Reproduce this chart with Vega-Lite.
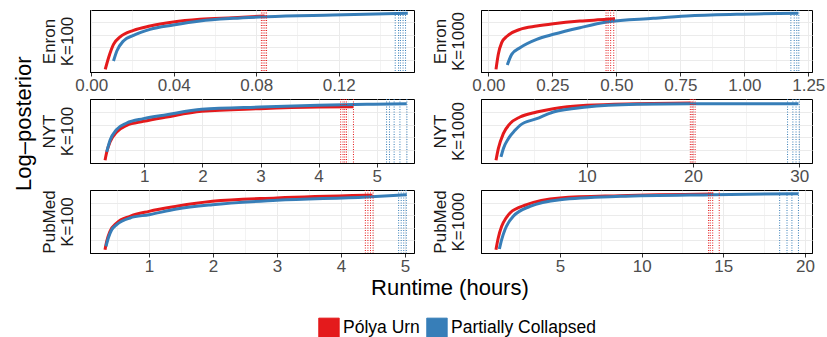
{
  "$schema": "https://vega.github.io/schema/vega-lite/v6.json",
  "padding": {"left": 12, "top": 9, "right": 0, "bottom": 0},
  "background": "white",
  "datasets": {
    "curves": [
      {"p": "Enron|100", "alg": "Pólya Urn", "t": 0.0068, "lp": 0.043},
      {"p": "Enron|100", "alg": "Pólya Urn", "t": 0.0084, "lp": 0.231},
      {"p": "Enron|100", "alg": "Pólya Urn", "t": 0.0108, "lp": 0.446},
      {"p": "Enron|100", "alg": "Pólya Urn", "t": 0.014, "lp": 0.565},
      {"p": "Enron|100", "alg": "Pólya Urn", "t": 0.0205, "lp": 0.672},
      {"p": "Enron|100", "alg": "Pólya Urn", "t": 0.0285, "lp": 0.742},
      {"p": "Enron|100", "alg": "Pólya Urn", "t": 0.0398, "lp": 0.806},
      {"p": "Enron|100", "alg": "Pólya Urn", "t": 0.0527, "lp": 0.849},
      {"p": "Enron|100", "alg": "Pólya Urn", "t": 0.0688, "lp": 0.876},
      {"p": "Enron|100", "alg": "Pólya Urn", "t": 0.084, "lp": 0.903},
      {"p": "Enron|100", "alg": "Partially Collapsed", "t": 0.0108, "lp": 0.177},
      {"p": "Enron|100", "alg": "Partially Collapsed", "t": 0.0124, "lp": 0.339},
      {"p": "Enron|100", "alg": "Partially Collapsed", "t": 0.0156, "lp": 0.5},
      {"p": "Enron|100", "alg": "Partially Collapsed", "t": 0.0205, "lp": 0.591},
      {"p": "Enron|100", "alg": "Partially Collapsed", "t": 0.0285, "lp": 0.688},
      {"p": "Enron|100", "alg": "Partially Collapsed", "t": 0.0398, "lp": 0.758},
      {"p": "Enron|100", "alg": "Partially Collapsed", "t": 0.0527, "lp": 0.823},
      {"p": "Enron|100", "alg": "Partially Collapsed", "t": 0.0688, "lp": 0.866},
      {"p": "Enron|100", "alg": "Partially Collapsed", "t": 0.085, "lp": 0.892},
      {"p": "Enron|100", "alg": "Partially Collapsed", "t": 0.1172, "lp": 0.919},
      {"p": "Enron|100", "alg": "Partially Collapsed", "t": 0.1535, "lp": 0.946},

      {"p": "Enron|1000", "alg": "Pólya Urn", "t": 0.0301, "lp": 0.043},
      {"p": "Enron|1000", "alg": "Pólya Urn", "t": 0.0391, "lp": 0.285},
      {"p": "Enron|1000", "alg": "Pólya Urn", "t": 0.0523, "lp": 0.473},
      {"p": "Enron|1000", "alg": "Pólya Urn", "t": 0.0742, "lp": 0.581},
      {"p": "Enron|1000", "alg": "Pólya Urn", "t": 0.1238, "lp": 0.688},
      {"p": "Enron|1000", "alg": "Pólya Urn", "t": 0.189, "lp": 0.742},
      {"p": "Enron|1000", "alg": "Pólya Urn", "t": 0.254, "lp": 0.78},
      {"p": "Enron|1000", "alg": "Pólya Urn", "t": 0.358, "lp": 0.823},
      {"p": "Enron|1000", "alg": "Pólya Urn", "t": 0.4625, "lp": 0.849},
      {"p": "Enron|1000", "alg": "Pólya Urn", "t": 0.495, "lp": 0.86},
      {"p": "Enron|1000", "alg": "Partially Collapsed", "t": 0.0742, "lp": 0.113},
      {"p": "Enron|1000", "alg": "Partially Collapsed", "t": 0.0914, "lp": 0.285},
      {"p": "Enron|1000", "alg": "Partially Collapsed", "t": 0.1238, "lp": 0.392},
      {"p": "Enron|1000", "alg": "Partially Collapsed", "t": 0.189, "lp": 0.527},
      {"p": "Enron|1000", "alg": "Partially Collapsed", "t": 0.254, "lp": 0.608},
      {"p": "Enron|1000", "alg": "Partially Collapsed", "t": 0.358, "lp": 0.715},
      {"p": "Enron|1000", "alg": "Partially Collapsed", "t": 0.4625, "lp": 0.806},
      {"p": "Enron|1000", "alg": "Partially Collapsed", "t": 0.6445, "lp": 0.866},
      {"p": "Enron|1000", "alg": "Partially Collapsed", "t": 0.775, "lp": 0.903},
      {"p": "Enron|1000", "alg": "Partially Collapsed", "t": 0.97, "lp": 0.93},
      {"p": "Enron|1000", "alg": "Partially Collapsed", "t": 1.211, "lp": 0.946},

      {"p": "NYT|100", "alg": "Pólya Urn", "t": 0.324, "lp": 0.042},
      {"p": "NYT|100", "alg": "Pólya Urn", "t": 0.353, "lp": 0.172},
      {"p": "NYT|100", "alg": "Pólya Urn", "t": 0.41, "lp": 0.328},
      {"p": "NYT|100", "alg": "Pólya Urn", "t": 0.525, "lp": 0.484},
      {"p": "NYT|100", "alg": "Pólya Urn", "t": 0.697, "lp": 0.589},
      {"p": "NYT|100", "alg": "Pólya Urn", "t": 0.983, "lp": 0.651},
      {"p": "NYT|100", "alg": "Pólya Urn", "t": 1.386, "lp": 0.719},
      {"p": "NYT|100", "alg": "Pólya Urn", "t": 1.988, "lp": 0.807},
      {"p": "NYT|100", "alg": "Pólya Urn", "t": 2.991, "lp": 0.849},
      {"p": "NYT|100", "alg": "Pólya Urn", "t": 3.995, "lp": 0.875},
      {"p": "NYT|100", "alg": "Pólya Urn", "t": 4.597, "lp": 0.88},
      {"p": "NYT|100", "alg": "Partially Collapsed", "t": 0.353, "lp": 0.172},
      {"p": "NYT|100", "alg": "Partially Collapsed", "t": 0.41, "lp": 0.354},
      {"p": "NYT|100", "alg": "Partially Collapsed", "t": 0.525, "lp": 0.526},
      {"p": "NYT|100", "alg": "Partially Collapsed", "t": 0.697, "lp": 0.625},
      {"p": "NYT|100", "alg": "Partially Collapsed", "t": 0.983, "lp": 0.693},
      {"p": "NYT|100", "alg": "Partially Collapsed", "t": 1.386, "lp": 0.755},
      {"p": "NYT|100", "alg": "Partially Collapsed", "t": 1.988, "lp": 0.839},
      {"p": "NYT|100", "alg": "Partially Collapsed", "t": 2.991, "lp": 0.875},
      {"p": "NYT|100", "alg": "Partially Collapsed", "t": 3.995, "lp": 0.901},
      {"p": "NYT|100", "alg": "Partially Collapsed", "t": 4.828, "lp": 0.917},
      {"p": "NYT|100", "alg": "Partially Collapsed", "t": 5.516, "lp": 0.927},

      {"p": "NYT|1000", "alg": "Pólya Urn", "t": 1.46, "lp": 0.042},
      {"p": "NYT|1000", "alg": "Pólya Urn", "t": 1.68, "lp": 0.224},
      {"p": "NYT|1000", "alg": "Pólya Urn", "t": 2.15, "lp": 0.458},
      {"p": "NYT|1000", "alg": "Pólya Urn", "t": 2.78, "lp": 0.615},
      {"p": "NYT|1000", "alg": "Pólya Urn", "t": 3.72, "lp": 0.719},
      {"p": "NYT|1000", "alg": "Pólya Urn", "t": 5.29, "lp": 0.797},
      {"p": "NYT|1000", "alg": "Pólya Urn", "t": 6.86, "lp": 0.849},
      {"p": "NYT|1000", "alg": "Pólya Urn", "t": 10.0, "lp": 0.901},
      {"p": "NYT|1000", "alg": "Pólya Urn", "t": 14.71, "lp": 0.927},
      {"p": "NYT|1000", "alg": "Pólya Urn", "t": 19.73, "lp": 0.938},
      {"p": "NYT|1000", "alg": "Partially Collapsed", "t": 1.93, "lp": 0.094},
      {"p": "NYT|1000", "alg": "Partially Collapsed", "t": 2.15, "lp": 0.224},
      {"p": "NYT|1000", "alg": "Partially Collapsed", "t": 2.62, "lp": 0.38},
      {"p": "NYT|1000", "alg": "Partially Collapsed", "t": 3.25, "lp": 0.51},
      {"p": "NYT|1000", "alg": "Partially Collapsed", "t": 3.72, "lp": 0.589},
      {"p": "NYT|1000", "alg": "Partially Collapsed", "t": 5.29, "lp": 0.693},
      {"p": "NYT|1000", "alg": "Partially Collapsed", "t": 6.86, "lp": 0.797},
      {"p": "NYT|1000", "alg": "Partially Collapsed", "t": 10.0, "lp": 0.875},
      {"p": "NYT|1000", "alg": "Partially Collapsed", "t": 14.71, "lp": 0.917},
      {"p": "NYT|1000", "alg": "Partially Collapsed", "t": 19.73, "lp": 0.927},
      {"p": "NYT|1000", "alg": "Partially Collapsed", "t": 29.93, "lp": 0.927},

      {"p": "PubMed|100", "alg": "Pólya Urn", "t": 0.3125, "lp": 0.053},
      {"p": "PubMed|100", "alg": "Pólya Urn", "t": 0.339, "lp": 0.185},
      {"p": "PubMed|100", "alg": "Pólya Urn", "t": 0.391, "lp": 0.344},
      {"p": "PubMed|100", "alg": "Pólya Urn", "t": 0.495, "lp": 0.476},
      {"p": "PubMed|100", "alg": "Pólya Urn", "t": 0.703, "lp": 0.582},
      {"p": "PubMed|100", "alg": "Pólya Urn", "t": 1.0, "lp": 0.661},
      {"p": "PubMed|100", "alg": "Pólya Urn", "t": 1.432, "lp": 0.741},
      {"p": "PubMed|100", "alg": "Pólya Urn", "t": 1.99, "lp": 0.82},
      {"p": "PubMed|100", "alg": "Pólya Urn", "t": 2.995, "lp": 0.873},
      {"p": "PubMed|100", "alg": "Pólya Urn", "t": 4.4, "lp": 0.915},
      {"p": "PubMed|100", "alg": "Pólya Urn", "t": 4.49, "lp": 0.917},
      {"p": "PubMed|100", "alg": "Partially Collapsed", "t": 0.328, "lp": 0.106},
      {"p": "PubMed|100", "alg": "Partially Collapsed", "t": 0.364, "lp": 0.238},
      {"p": "PubMed|100", "alg": "Partially Collapsed", "t": 0.417, "lp": 0.37},
      {"p": "PubMed|100", "alg": "Partially Collapsed", "t": 0.495, "lp": 0.45},
      {"p": "PubMed|100", "alg": "Partially Collapsed", "t": 0.703, "lp": 0.556},
      {"p": "PubMed|100", "alg": "Partially Collapsed", "t": 1.0, "lp": 0.608},
      {"p": "PubMed|100", "alg": "Partially Collapsed", "t": 1.432, "lp": 0.698},
      {"p": "PubMed|100", "alg": "Partially Collapsed", "t": 1.99, "lp": 0.767},
      {"p": "PubMed|100", "alg": "Partially Collapsed", "t": 2.995, "lp": 0.836},
      {"p": "PubMed|100", "alg": "Partially Collapsed", "t": 4.4, "lp": 0.889},
      {"p": "PubMed|100", "alg": "Partially Collapsed", "t": 5.027, "lp": 0.926},

      {"p": "PubMed|1000", "alg": "Pólya Urn", "t": 1.08, "lp": 0.053},
      {"p": "PubMed|1000", "alg": "Pólya Urn", "t": 1.22, "lp": 0.238},
      {"p": "PubMed|1000", "alg": "Pólya Urn", "t": 1.43, "lp": 0.423},
      {"p": "PubMed|1000", "alg": "Pólya Urn", "t": 1.7, "lp": 0.556},
      {"p": "PubMed|1000", "alg": "Pólya Urn", "t": 1.94, "lp": 0.635},
      {"p": "PubMed|1000", "alg": "Pólya Urn", "t": 2.96, "lp": 0.767},
      {"p": "PubMed|1000", "alg": "Pólya Urn", "t": 5.0, "lp": 0.873},
      {"p": "PubMed|1000", "alg": "Pólya Urn", "t": 8.68, "lp": 0.91},
      {"p": "PubMed|1000", "alg": "Pólya Urn", "t": 14.39, "lp": 0.937},
      {"p": "PubMed|1000", "alg": "Partially Collapsed", "t": 1.29, "lp": 0.063},
      {"p": "PubMed|1000", "alg": "Partially Collapsed", "t": 1.43, "lp": 0.212},
      {"p": "PubMed|1000", "alg": "Partially Collapsed", "t": 1.63, "lp": 0.37},
      {"p": "PubMed|1000", "alg": "Partially Collapsed", "t": 1.9, "lp": 0.503},
      {"p": "PubMed|1000", "alg": "Partially Collapsed", "t": 2.14, "lp": 0.582},
      {"p": "PubMed|1000", "alg": "Partially Collapsed", "t": 3.17, "lp": 0.741},
      {"p": "PubMed|1000", "alg": "Partially Collapsed", "t": 5.0, "lp": 0.847},
      {"p": "PubMed|1000", "alg": "Partially Collapsed", "t": 8.68, "lp": 0.899},
      {"p": "PubMed|1000", "alg": "Partially Collapsed", "t": 14.39, "lp": 0.926},
      {"p": "PubMed|1000", "alg": "Partially Collapsed", "t": 19.6, "lp": 0.942}
    ],
    "ends": [
      {"p": "Enron|100", "alg": "Pólya Urn", "t": 0.0825},
      {"p": "Enron|100", "alg": "Pólya Urn", "t": 0.0833},
      {"p": "Enron|100", "alg": "Pólya Urn", "t": 0.0842},
      {"p": "Enron|100", "alg": "Pólya Urn", "t": 0.085},
      {"p": "Enron|100", "alg": "Partially Collapsed", "t": 0.1474},
      {"p": "Enron|100", "alg": "Partially Collapsed", "t": 0.149},
      {"p": "Enron|100", "alg": "Partially Collapsed", "t": 0.1499},
      {"p": "Enron|100", "alg": "Partially Collapsed", "t": 0.1512},
      {"p": "Enron|100", "alg": "Partially Collapsed", "t": 0.1524},
      {"p": "Enron|1000", "alg": "Pólya Urn", "t": 0.46},
      {"p": "Enron|1000", "alg": "Pólya Urn", "t": 0.468},
      {"p": "Enron|1000", "alg": "Pólya Urn", "t": 0.478},
      {"p": "Enron|1000", "alg": "Pólya Urn", "t": 0.49},
      {"p": "Enron|1000", "alg": "Partially Collapsed", "t": 1.182},
      {"p": "Enron|1000", "alg": "Partially Collapsed", "t": 1.195},
      {"p": "Enron|1000", "alg": "Partially Collapsed", "t": 1.205},
      {"p": "Enron|1000", "alg": "Partially Collapsed", "t": 1.213},
      {"p": "NYT|100", "alg": "Pólya Urn", "t": 4.38},
      {"p": "NYT|100", "alg": "Pólya Urn", "t": 4.42},
      {"p": "NYT|100", "alg": "Pólya Urn", "t": 4.45},
      {"p": "NYT|100", "alg": "Pólya Urn", "t": 4.48},
      {"p": "NYT|100", "alg": "Pólya Urn", "t": 4.6},
      {"p": "NYT|100", "alg": "Partially Collapsed", "t": 5.17},
      {"p": "NYT|100", "alg": "Partially Collapsed", "t": 5.22},
      {"p": "NYT|100", "alg": "Partially Collapsed", "t": 5.3},
      {"p": "NYT|100", "alg": "Partially Collapsed", "t": 5.4},
      {"p": "NYT|100", "alg": "Partially Collapsed", "t": 5.52},
      {"p": "NYT|1000", "alg": "Pólya Urn", "t": 19.75},
      {"p": "NYT|1000", "alg": "Pólya Urn", "t": 19.9},
      {"p": "NYT|1000", "alg": "Pólya Urn", "t": 20.0},
      {"p": "NYT|1000", "alg": "Pólya Urn", "t": 20.2},
      {"p": "NYT|1000", "alg": "Partially Collapsed", "t": 28.9},
      {"p": "NYT|1000", "alg": "Partially Collapsed", "t": 29.4},
      {"p": "NYT|1000", "alg": "Partially Collapsed", "t": 29.7},
      {"p": "NYT|1000", "alg": "Partially Collapsed", "t": 30.0},
      {"p": "PubMed|100", "alg": "Pólya Urn", "t": 4.38},
      {"p": "PubMed|100", "alg": "Pólya Urn", "t": 4.42},
      {"p": "PubMed|100", "alg": "Pólya Urn", "t": 4.46},
      {"p": "PubMed|100", "alg": "Pólya Urn", "t": 4.5},
      {"p": "PubMed|100", "alg": "Partially Collapsed", "t": 4.9},
      {"p": "PubMed|100", "alg": "Partially Collapsed", "t": 4.94},
      {"p": "PubMed|100", "alg": "Partially Collapsed", "t": 4.98},
      {"p": "PubMed|100", "alg": "Partially Collapsed", "t": 5.02},
      {"p": "PubMed|1000", "alg": "Pólya Urn", "t": 14.1},
      {"p": "PubMed|1000", "alg": "Pólya Urn", "t": 14.2},
      {"p": "PubMed|1000", "alg": "Pólya Urn", "t": 14.35},
      {"p": "PubMed|1000", "alg": "Pólya Urn", "t": 14.75},
      {"p": "PubMed|1000", "alg": "Partially Collapsed", "t": 18.45},
      {"p": "PubMed|1000", "alg": "Partially Collapsed", "t": 18.9},
      {"p": "PubMed|1000", "alg": "Partially Collapsed", "t": 19.2},
      {"p": "PubMed|1000", "alg": "Partially Collapsed", "t": 19.6}
    ]
  },
  "vconcat": [
    {
      "title": {"text": "Runtime (hours)", "orient": "bottom", "anchor": "middle", "frame": "bounds", "fontSize": 22, "fontWeight": "normal", "font": "Liberation Sans", "color": "#000000", "dx": 31, "offset": 3},
      "vconcat": [
        {
          "title": {"text": "Log–posterior", "orient": "left", "anchor": "middle", "frame": "bounds", "fontSize": 22, "fontWeight": "normal", "font": "Liberation Sans", "color": "#000000", "offset": 4, "dx": 18},
          "columns": 2,
          "spacing": {"row": 4, "column": 15},
          "concat": [
            {
              "width": 324, "height": 62,
              "layer": [
                {
                  "data": {"name": "curves"},
                  "transform": [{"filter": "datum.p === 'Enron|100'"}],
                  "mark": {"type": "line", "strokeWidth": 3, "interpolate": "monotone", "clip": true},
                  "encoding": {
                    "x": {"field": "t", "type": "quantitative", "scale": {"domain": [-0.0006, 0.1565], "nice": false, "zero": false},
                      "axis": {"orient": "top", "values": [0.02, 0.06, 0.1, 0.14], "labels": false, "ticks": false, "domain": false, "title": null, "grid": true, "gridWidth": 0.6}},
                    "y": {"field": "lp", "type": "quantitative", "scale": {"domain": [0, 1], "nice": false, "zero": false},
                      "axis": {"title": ["Enron", "K=100"], "labels": false, "ticks": false, "values": [0.2, 0.4, 0.6, 0.8], "grid": true}},
                    "color": {"field": "alg", "type": "nominal",
                      "scale": {"domain": ["Pólya Urn", "Partially Collapsed"], "range": ["#E41A1C", "#377EB8"]},
                      "legend": {"title": null, "orient": "none", "legendX": 228, "legendY": 307, "direction": "horizontal",
                        "symbolType": "square", "symbolSize": 420, "symbolStrokeWidth": 1, "symbolDash": [1, 0],
                        "labelFontSize": 17.5, "labelFont": "Liberation Sans", "labelColor": "#000000", "labelOffset": 3, "columnPadding": 4,
                        "encode": {"symbols": {"update": {"fill": {"scale": "color", "field": "value"}, "stroke": {"value": "#333333"}, "opacity": {"value": 1}}}}}}
                  }
                },
                {
                  "data": {"name": "ends"},
                  "transform": [{"filter": "datum.p === 'Enron|100'"}],
                  "mark": {"type": "rule", "strokeDash": [1, 1.5], "strokeWidth": 1},
                  "encoding": {
                    "x": {"field": "t", "type": "quantitative", "scale": {"domain": [-0.0006, 0.1565], "nice": false, "zero": false},
                      "axis": {"values": [0, 0.04, 0.08, 0.12], "format": ".2f", "title": null, "grid": true}},
                    "color": {"field": "alg", "type": "nominal"}
                  }
                }
              ],
              "resolve": {"axis": {"x": "independent"}}
            },
            {
              "width": 331, "height": 62,
              "layer": [
                {
                  "data": {"name": "curves"},
                  "transform": [{"filter": "datum.p === 'Enron|1000'"}],
                  "mark": {"type": "line", "strokeWidth": 3, "interpolate": "monotone", "clip": true},
                  "encoding": {
                    "x": {"field": "t", "type": "quantitative", "scale": {"domain": [-0.0285, 1.2645], "nice": false, "zero": false},
                      "axis": {"orient": "top", "values": [0.125, 0.375, 0.625, 0.875, 1.125], "labels": false, "ticks": false, "domain": false, "title": null, "grid": true, "gridWidth": 0.6}},
                    "y": {"field": "lp", "type": "quantitative", "scale": {"domain": [0, 1], "nice": false, "zero": false},
                      "axis": {"title": ["Enron", "K=1000"], "labels": false, "ticks": false, "values": [0.2, 0.4, 0.6, 0.8], "grid": true}},
                    "color": {"field": "alg", "type": "nominal"}
                  }
                },
                {
                  "data": {"name": "ends"},
                  "transform": [{"filter": "datum.p === 'Enron|1000'"}],
                  "mark": {"type": "rule", "strokeDash": [1, 1.5], "strokeWidth": 1},
                  "encoding": {
                    "x": {"field": "t", "type": "quantitative", "scale": {"domain": [-0.0285, 1.2645], "nice": false, "zero": false},
                      "axis": {"values": [0, 0.25, 0.5, 0.75, 1, 1.25], "format": ".2f", "title": null, "grid": true}},
                    "color": {"field": "alg", "type": "nominal"}
                  }
                }
              ],
              "resolve": {"axis": {"x": "independent"}}
            },
            {
              "width": 324, "height": 64,
              "layer": [
                {
                  "data": {"name": "curves"},
                  "transform": [{"filter": "datum.p === 'NYT|100'"}],
                  "mark": {"type": "line", "strokeWidth": 3, "interpolate": "monotone", "clip": true},
                  "encoding": {
                    "x": {"field": "t", "type": "quantitative", "scale": {"domain": [0.065, 5.642], "nice": false, "zero": false},
                      "axis": {"orient": "top", "values": [0.5, 1.5, 2.5, 3.5, 4.5, 5.5], "labels": false, "ticks": false, "domain": false, "title": null, "grid": true, "gridWidth": 0.6}},
                    "y": {"field": "lp", "type": "quantitative", "scale": {"domain": [0, 1], "nice": false, "zero": false},
                      "axis": {"title": ["NYT", "K=100"], "labels": false, "ticks": false, "values": [0.2, 0.4, 0.6, 0.8], "grid": true}},
                    "color": {"field": "alg", "type": "nominal"}
                  }
                },
                {
                  "data": {"name": "ends"},
                  "transform": [{"filter": "datum.p === 'NYT|100'"}],
                  "mark": {"type": "rule", "strokeDash": [1, 1.5], "strokeWidth": 1},
                  "encoding": {
                    "x": {"field": "t", "type": "quantitative", "scale": {"domain": [0.065, 5.642], "nice": false, "zero": false},
                      "axis": {"values": [1, 2, 3, 4, 5], "format": "d", "title": null, "grid": true}},
                    "color": {"field": "alg", "type": "nominal"}
                  }
                }
              ],
              "resolve": {"axis": {"x": "independent"}}
            },
            {
              "width": 331, "height": 64,
              "layer": [
                {
                  "data": {"name": "curves"},
                  "transform": [{"filter": "datum.p === 'NYT|1000'"}],
                  "mark": {"type": "line", "strokeWidth": 3, "interpolate": "monotone", "clip": true},
                  "encoding": {
                    "x": {"field": "t", "type": "quantitative", "scale": {"domain": [0.05, 31.2], "nice": false, "zero": false},
                      "axis": {"orient": "top", "values": [5, 15, 25], "labels": false, "ticks": false, "domain": false, "title": null, "grid": true, "gridWidth": 0.6}},
                    "y": {"field": "lp", "type": "quantitative", "scale": {"domain": [0, 1], "nice": false, "zero": false},
                      "axis": {"title": ["NYT", "K=1000"], "labels": false, "ticks": false, "values": [0.2, 0.4, 0.6, 0.8], "grid": true}},
                    "color": {"field": "alg", "type": "nominal"}
                  }
                },
                {
                  "data": {"name": "ends"},
                  "transform": [{"filter": "datum.p === 'NYT|1000'"}],
                  "mark": {"type": "rule", "strokeDash": [1, 1.5], "strokeWidth": 1},
                  "encoding": {
                    "x": {"field": "t", "type": "quantitative", "scale": {"domain": [0.05, 31.2], "nice": false, "zero": false},
                      "axis": {"values": [10, 20, 30], "format": "d", "title": null, "grid": true}},
                    "color": {"field": "alg", "type": "nominal"}
                  }
                }
              ],
              "resolve": {"axis": {"x": "independent"}}
            },
            {
              "width": 324, "height": 63,
              "layer": [
                {
                  "data": {"name": "curves"},
                  "transform": [{"filter": "datum.p === 'PubMed|100'"}],
                  "mark": {"type": "line", "strokeWidth": 3, "interpolate": "monotone", "clip": true},
                  "encoding": {
                    "x": {"field": "t", "type": "quantitative", "scale": {"domain": [0.078, 5.14], "nice": false, "zero": false},
                      "axis": {"orient": "top", "values": [0.5, 1.5, 2.5, 3.5, 4.5], "labels": false, "ticks": false, "domain": false, "title": null, "grid": true, "gridWidth": 0.6}},
                    "y": {"field": "lp", "type": "quantitative", "scale": {"domain": [0, 1], "nice": false, "zero": false},
                      "axis": {"title": ["PubMed", "K=100"], "labels": false, "ticks": false, "values": [0.2, 0.4, 0.6, 0.8], "grid": true}},
                    "color": {"field": "alg", "type": "nominal"}
                  }
                },
                {
                  "data": {"name": "ends"},
                  "transform": [{"filter": "datum.p === 'PubMed|100'"}],
                  "mark": {"type": "rule", "strokeDash": [1, 1.5], "strokeWidth": 1},
                  "encoding": {
                    "x": {"field": "t", "type": "quantitative", "scale": {"domain": [0.078, 5.14], "nice": false, "zero": false},
                      "axis": {"values": [1, 2, 3, 4, 5], "format": "d", "title": null, "grid": true}},
                    "color": {"field": "alg", "type": "nominal"}
                  }
                }
              ],
              "resolve": {"axis": {"x": "independent"}}
            },
            {
              "width": 331, "height": 63,
              "layer": [
                {
                  "data": {"name": "curves"},
                  "transform": [{"filter": "datum.p === 'PubMed|1000'"}],
                  "mark": {"type": "line", "strokeWidth": 3, "interpolate": "monotone", "clip": true},
                  "encoding": {
                    "x": {"field": "t", "type": "quantitative", "scale": {"domain": [0.165, 20.43], "nice": false, "zero": false},
                      "axis": {"orient": "top", "values": [2.5, 7.5, 12.5, 17.5], "labels": false, "ticks": false, "domain": false, "title": null, "grid": true, "gridWidth": 0.6}},
                    "y": {"field": "lp", "type": "quantitative", "scale": {"domain": [0, 1], "nice": false, "zero": false},
                      "axis": {"title": ["PubMed", "K=1000"], "labels": false, "ticks": false, "values": [0.2, 0.4, 0.6, 0.8], "grid": true}},
                    "color": {"field": "alg", "type": "nominal"}
                  }
                },
                {
                  "data": {"name": "ends"},
                  "transform": [{"filter": "datum.p === 'PubMed|1000'"}],
                  "mark": {"type": "rule", "strokeDash": [1, 1.5], "strokeWidth": 1},
                  "encoding": {
                    "x": {"field": "t", "type": "quantitative", "scale": {"domain": [0.165, 20.43], "nice": false, "zero": false},
                      "axis": {"values": [5, 10, 15, 20], "format": "d", "title": null, "grid": true}},
                    "color": {"field": "alg", "type": "nominal"}
                  }
                }
              ],
              "resolve": {"axis": {"x": "independent"}}
            }
          ]
        }
      ]
    }
  ],
  "config": {
    "font": "Liberation Sans",
    "view": {"stroke": "#000000", "strokeWidth": 1},
    "axis": {
      "labelFont": "Liberation Sans", "labelFontSize": 17, "labelColor": "#4d4d4d", "labelPadding": 1,
      "tickColor": "#333333", "tickSize": 4, "tickWidth": 1,
      "gridColor": "#ebebeb", "gridWidth": 1,
      "domainColor": "#000000", "domainWidth": 1,
      "titleFont": "Liberation Sans", "titleFontSize": 17, "titleFontWeight": "normal", "titleColor": "#1a1a1a", "titlePadding": 14, "titleLineHeight": 18
    }
  }
}
